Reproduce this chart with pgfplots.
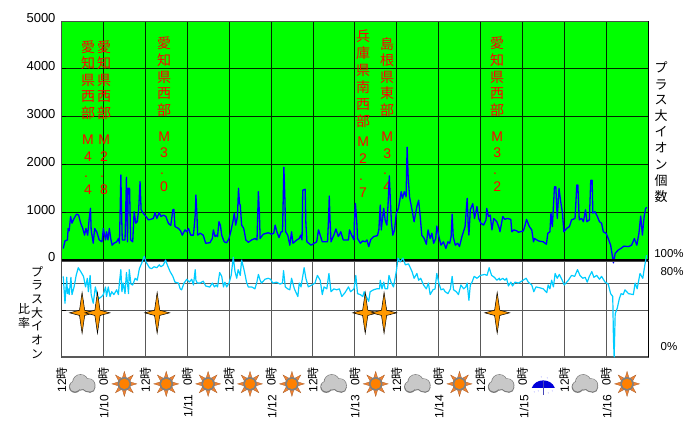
\documentclass[border=0pt]{standalone}
\usepackage{fontspec}
\usepackage{pgfplots}
\pgfplotsset{compat=1.18}
\setmainfont{Liberation Sans}
\newfontfamily\jp{Noto Sans CJK JP}
\definecolor{plusgreen}{RGB}{0,255,0}
\definecolor{starorange}{RGB}{255,153,0}
\definecolor{sunorange}{RGB}{255,128,0}
\definecolor{raycol}{RGB}{240,130,50}
\definecolor{cloudfill}{RGB}{200,200,200}
\definecolor{cloudedge}{RGB}{120,120,120}
\definecolor{linecyan}{RGB}{0,204,255}
\newcommand{\lat}[1]{{\rmfamily\fontsize{14}{16.6}\selectfont #1}}
\newcommand{\latdot}{{\rmfamily\fontsize{14}{16.6}\selectfont\hbox to 8pt{.\hfil}}}
\pgfdeclareplotmark{quake}{%
  \pgfsetfillcolor{starorange}\pgfsetstrokecolor{black}\pgfsetlinewidth{0.5pt}%
  \pgfpathmoveto{\pgfpoint{0pt}{20.5pt}}%
  \pgfpathlineto{\pgfpoint{2.6pt}{2.6pt}}%
  \pgfpathlineto{\pgfpoint{12.5pt}{0pt}}%
  \pgfpathlineto{\pgfpoint{2.6pt}{-2.6pt}}%
  \pgfpathlineto{\pgfpoint{0pt}{-20.5pt}}%
  \pgfpathlineto{\pgfpoint{-2.6pt}{-2.6pt}}%
  \pgfpathlineto{\pgfpoint{-12.5pt}{0pt}}%
  \pgfpathlineto{\pgfpoint{-2.6pt}{2.6pt}}%
  \pgfpathclose\pgfusepathqfillstroke}
\pgfdeclareplotmark{sun}{%
  \pgfsetfillcolor{raycol}\pgfsetstrokecolor{raycol!70!black}\pgfsetlinewidth{0.3pt}%
  \foreach \a in {0,45,...,315}{%
    \pgfmathsetmacro\b{\a-20}\pgfmathsetmacro\c{\a+20}%
    \pgfpathmoveto{\pgfpointpolar{\a}{12.5pt}}%
    \pgfpathlineto{\pgfpointpolar{\b}{6pt}}%
    \pgfpathlineto{\pgfpointpolar{\c}{6pt}}%
    \pgfpathclose\pgfusepathqfillstroke}%
  \pgfsetfillcolor{gray}\pgfpathcircle{\pgfpointorigin}{6.8pt}\pgfusepathqfill
  \pgfsetfillcolor{sunorange}\pgfpathcircle{\pgfpointorigin}{5.2pt}\pgfusepathqfill}
\pgfdeclareplotmark{cloud}{%
  \pgfsetfillcolor{cloudedge}%
  \pgfpathcircle{\pgfpoint{-7.5pt}{-3pt}}{6pt}%
  \pgfpathcircle{\pgfpoint{-2pt}{1.5pt}}{8.2pt}%
  \pgfpathcircle{\pgfpoint{6pt}{-1.5pt}}{7pt}%
  \pgfpathcircle{\pgfpoint{7.5pt}{-3.5pt}}{5.5pt}\pgfusepathqfill
  \pgfsetfillcolor{cloudfill}%
  \pgfpathcircle{\pgfpoint{-7.5pt}{-2.6pt}}{5.2pt}%
  \pgfpathcircle{\pgfpoint{-2pt}{1.7pt}}{7.4pt}%
  \pgfpathcircle{\pgfpoint{6pt}{-1.2pt}}{6.2pt}%
  \pgfpathcircle{\pgfpoint{7.5pt}{-3.1pt}}{4.7pt}\pgfusepathqfill}
\pgfdeclareplotmark{umbrella}{%
  \pgfsetfillcolor{blue!85!black}\pgfsetlinewidth{0.8pt}%
  \pgfpathmoveto{\pgfpoint{-11.5pt}{-4pt}}%
  \pgfpathcurveto{\pgfpoint{-8pt}{6pt}}{\pgfpoint{8pt}{6pt}}{\pgfpoint{11.5pt}{-4pt}}%
  \pgfpathclose\pgfusepathqfill
  \pgfsetstrokecolor{blue!45!gray}%
  \pgfpathmoveto{\pgfpoint{0pt}{3pt}}\pgfpathlineto{\pgfpoint{0pt}{-11pt}}\pgfusepathqstroke
  \pgfsetfillcolor{blue!35}%
  \pgfpathcircle{\pgfpoint{-9pt}{-8pt}}{0.6pt}%
  \pgfpathcircle{\pgfpoint{-5pt}{-7pt}}{0.6pt}%
  \pgfpathcircle{\pgfpoint{5pt}{-9pt}}{0.6pt}%
  \pgfpathcircle{\pgfpoint{9pt}{-7pt}}{0.6pt}%
  \pgfpathcircle{\pgfpoint{-2pt}{7pt}}{0.6pt}%
  \pgfpathcircle{\pgfpoint{4pt}{6pt}}{0.6pt}\pgfusepathqfill}
\begin{document}
\begin{tikzpicture}[x=1pt,y=1pt]
\path[use as bounding box] (0,0) rectangle (700pt,436pt);
% ---------------- upper panel
\begin{axis}[
  at={(61.5pt,176pt)},anchor=south west,scale only axis,
  width=586.5pt,height=239pt,
  xmin=0,xmax=168,ymin=0,ymax=5000,clip=false,
  axis background/.style={fill=plusgreen},
  axis line style={gray!60!black,line width=0.6pt},
  xtick={0,12,...,168},xticklabels={},
  ytick={0,1000,2000,3000,4000,5000},
  scaled y ticks=false,
  ytick pos=left,xtick pos=bottom,
  y tick label style={/pgf/number format/assume math mode=true,
    /pgf/number format/1000 sep={},font=\fontsize{13}{13}\selectfont,yshift=2.5pt,xshift=-2.5pt},
  major tick length=4pt,tick style={black,line width=0.7pt},
  x tick style={draw=none},
  grid=major,grid style={black!85!green,line width=0.7pt},
]
\node[anchor=north,inner sep=0pt,align=center,text=red,font=\jp\fontsize{14}{16.6}\selectfont] at (axis cs:7.6,4600) {愛\\知\\県\\西\\部\\[9.4pt]\lat{M}\\\lat{4}\\\latdot\\\lat{4}};
\node[anchor=north,inner sep=0pt,align=center,text=red,font=\jp\fontsize{14}{16.6}\selectfont] at (axis cs:12.2,4600) {愛\\知\\県\\西\\部\\[9.4pt]\lat{M}\\\lat{2}\\\latdot\\\lat{8}};
\node[anchor=north,inner sep=0pt,align=center,text=red,font=\jp\fontsize{14}{16.6}\selectfont] at (axis cs:29.4,4665) {愛\\知\\県\\西\\部\\[9.4pt]\lat{M}\\\lat{3}\\\latdot\\\lat{0}};
\node[anchor=north,inner sep=0pt,align=center,text=red,font=\jp\fontsize{14}{17}\selectfont] at (axis cs:86.4,4810) {兵\\庫\\県\\南\\西\\部\\[3pt]\lat{M}\\\lat{2}\\\latdot\\\lat{7}};
\node[anchor=north,inner sep=0pt,align=center,text=red,font=\jp\fontsize{14}{16.6}\selectfont] at (axis cs:93.3,4665) {島\\根\\県\\東\\部\\[9.4pt]\lat{M}\\\lat{3}\\\latdot\\\lat{4}};
\node[anchor=north,inner sep=0pt,align=center,text=red,font=\jp\fontsize{14}{16.6}\selectfont] at (axis cs:124.8,4665) {愛\\知\\県\\西\\部\\[9.4pt]\lat{M}\\\lat{3}\\\latdot\\\lat{2}};
\addplot[blue,line width=1.3pt,line join=round] coordinates {
(0.5,240)(1.0,400)(1.7,420)(1.9,660)(2.2,610)(2.6,910)(3.0,770)(3.6,870)(4.3,960)(4.9,940)(5.5,770)(6.1,660)(6.6,520)(7.0,660)(7.5,520)(7.9,840)(8.3,1080)(8.5,630)(9.1,350)(9.5,660)(10.1,590)(10.8,420)(11.6,380)(12.0,660)(12.6,420)(12.9,590)(13.3,420)(13.7,660)(14.1,450)(14.5,310)(15.0,350)(15.8,380)(16.3,450)(16.6,350)(16.8,1050)(17.0,1780)(17.2,1050)(17.4,420)(18.2,420)(18.6,1730)(18.9,380)(19.1,1500)(19.5,1500)(19.8,420)(20.4,380)(20.8,1010)(21.3,770)(21.7,800)(22.1,1050)(22.5,1640)(22.8,1050)(23.4,980)(24.2,910)(24.9,840)(25.5,850)(26.3,870)(26.8,990)(27.3,870)(28.0,990)(28.5,910)(29.2,940)(29.9,910)(30.6,770)(31.3,720)(31.9,1050)(32.2,1060)(32.5,700)(33.5,660)(34.1,610)(34.6,520)(35.4,630)(35.9,590)(36.4,660)(37.0,520)(37.8,520)(38.3,940)(38.5,1360)(38.8,940)(39.0,520)(39.7,560)(40.6,520)(41.3,350)(42.3,360)
(42.5,360)(43.2,450)(43.5,630)(44.0,490)(44.4,520)(44.7,490)(45.1,800)(45.5,730)(45.9,520)(46.6,380)(47.3,360)(48.0,450)(48.6,630)(49.2,840)(49.5,980)(49.9,730)(50.4,910)(50.7,1500)(51.0,1180)(51.2,1150)(51.6,730)(52.2,660)(52.8,420)(53.5,370)(54.5,420)(55.4,450)(56.0,420)(56.2,940)(56.4,1430)(56.7,940)(56.9,450)(57.8,540)(59.2,570)(60.2,540)(60.8,560)(61.2,730)(61.7,590)(62.3,470)(62.9,590)(63.3,590)(63.5,1250)(63.7,1940)(64.0,1250)(64.2,590)(64.8,520)(65.4,310)(65.9,590)(66.3,350)(67.4,420)(68.1,450)(68.5,520)(68.9,420)(69.1,1460)(69.8,1480)(70.0,770)(70.3,380)(71.5,310)(72.4,350)(73.1,380)(73.6,630)(74.1,520)(74.7,380)(76.2,380)(76.5,870)(76.7,1340)(76.9,870)(77.2,380)(78.0,520)(78.6,650)(79.3,490)(80.0,590)(80.7,420)(82.2,420)(82.5,630)(83.1,520)(83.8,420)
(83.9,800)(84.2,1180)(84.6,770)(84.8,450)(85.6,350)(86.3,400)(87.0,380)(87.5,420)(88.0,280)(88.6,430)(89.4,490)(90.5,510)(90.9,630)(91.3,1150)(91.6,630)(91.9,840)(92.3,1080)(92.7,840)(93.2,730)(93.6,1250)(93.9,1760)(94.2,1250)(94.5,800)(94.9,520)(95.4,630)(95.9,980)(96.5,1080)(97.0,1290)(97.3,1430)(97.7,1290)(98.2,1430)(98.7,1320)(99.0,2360)(99.3,1740)(99.7,1320)(100.4,1050)(101.0,800)(101.8,1120)(102.3,1250)(102.8,870)(103.2,520)(103.9,450)(104.5,330)(105.0,630)(105.6,450)(106.1,560)(106.6,350)(107.2,450)(107.5,710)(108.1,490)(108.7,310)(109.4,380)(110.1,240)(110.7,380)(111.2,350)(111.6,490)(111.9,960)(112.2,490)(112.8,310)(113.5,350)(114.0,280)(114.7,490)(115.6,700)(116.2,1290)(116.5,730)(116.7,520)(117.1,1050)(117.8,1180)(118.3,870)(119.0,1120)(119.5,870)(120.1,770)(120.9,730)(121.6,840)(121.8,1080)(122.3,910)(122.8,940)(123.3,630)(123.8,870)(124.7,800)(125.4,660)
(125.6,590)(126.4,910)(127.0,850)(127.7,870)(128.7,850)(129.0,590)(129.6,630)(130.4,610)(130.9,580)(132.3,610)(132.8,730)(133.2,850)(134.0,700)(134.7,630)(135.2,380)(135.5,450)(136.6,400)(138.0,380)(138.9,330)(139.3,560)(139.9,590)(140.2,980)(140.6,700)(141.2,1530)(141.6,1530)(142.0,870)(142.5,1500)(143.0,1220)(143.5,980)(143.9,590)(144.7,660)(145.5,700)(146.1,840)(147.1,870)(147.6,1570)(147.9,1570)(148.3,840)(149.0,870)(149.5,800)(150.1,1050)(150.5,800)(151.2,840)(151.6,1670)(152.0,1670)(152.2,980)(152.8,1010)(153.5,910)(154.1,800)(154.7,770)(155.2,590)(156.0,560)(156.6,450)(157.3,310)(158.1,-60)(158.6,140)(159.5,210)(160.2,240)(161.1,290)(162.4,280)(163.3,310)(164.1,450)(164.8,310)(165.4,560)(165.9,920)(166.4,520)(166.9,910)(167.3,1080)(167.7,1100)
};
\draw[black,line width=1.5pt] (axis cs:0,0)--(axis cs:168,0);
\draw[black,line width=0.8pt] (axis cs:168,0)--(axis cs:168,5000);
\end{axis}
% ---------------- lower panel
\begin{axis}[
  at={(61.5pt,79pt)},anchor=south west,scale only axis,
  width=586.5pt,height=96pt,
  xmin=0,xmax=168,ymin=0,ymax=100,clip=false,
  axis line style={gray!60!black,line width=0.6pt},
  xtick={0,12,...,168},
  xticklabels={{12{\jp 時}},{0{\jp 時}},{12{\jp 時}},{0{\jp 時}},{12{\jp 時}},{0{\jp 時}},{12{\jp 時}},{0{\jp 時}},{12{\jp 時}},{0{\jp 時}},{12{\jp 時}},{0{\jp 時}},{12{\jp 時}},{0{\jp 時}},{}},
  x tick label style={rotate=90,anchor=east,font=\fontsize{12}{12}\selectfont,xshift=-6.5pt,yshift=0pt},
  ytick={0,49,77,100},yticklabels={},
  ytick pos=left,
  major tick length=4pt,tick style={black,line width=0.7pt},
  x tick style={draw=none},
  grid=major,grid style={gray!70!black,line width=0.8pt},
]
\draw[gray!70!black,line width=1.2pt] (axis cs:0,0)--(axis cs:168,0);
\draw[black,line width=0.8pt] (axis cs:168,0)--(axis cs:168,100);
\addplot[linecyan,line width=1.2pt,line join=round] coordinates {
(0.5,84)(1.0,56)(1.5,83)(1.7,66)(2.1,71)(2.2,65)(2.7,83)(3.0,65)(3.6,73)(4.2,85)(4.8,93)(5.5,89)(6.3,84)(6.9,73)(7.4,82)(7.7,68)(8.2,85)(8.5,65)(9.1,56)(9.7,73)(10.3,63)(10.8,61)(11.5,63)(12.0,65)(12.6,73)(12.9,63)(13.4,73)(13.9,63)(14.4,68)(15.0,65)(15.8,70)(16.3,65)(16.6,78)(17.0,91)(17.3,68)(17.7,77)(18.2,66)(18.6,88)(19.2,66)(19.4,91)(19.9,76)(20.4,75)(21.1,82)(21.7,80)(22.3,92)(23.0,98)(23.7,105)(24.2,99)(25.2,93)(25.8,92)(26.5,94)(27.3,93)(28.0,96)(28.5,94)(29.2,96)(29.8,101)(30.3,96)(31.1,89)(31.9,84)(32.5,78)(33.5,77)(34.0,71)(34.4,70)(35.1,77)(35.9,81)(36.6,78)(37.3,81)(37.8,75)(38.3,91)(38.5,80)(38.9,77)(39.7,77)(40.6,79)(41.3,74)(42.3,73)
(42.5,73)(43.2,77)(43.8,73)(44.3,75)(44.7,73)(45.3,88)(45.9,84)(46.4,73)(46.8,78)(47.3,73)(48.0,77)(48.6,85)(49.2,104)(49.7,89)(50.2,82)(50.6,91)(51.2,85)(51.6,101)(52.4,89)(53.0,78)(53.5,73)(54.5,73)(55.4,71)(55.9,77)(56.4,86)(56.9,80)(57.3,77)(58.3,81)(59.2,82)(59.9,81)(60.5,77)(61.6,78)(62.6,76)(63.3,77)(63.6,90)(64.1,73)(64.8,71)(65.4,70)(65.9,82)(66.7,71)(67.7,63)(68.1,77)(68.6,73)(69.1,84)(69.5,93)(70.0,82)(70.7,73)(71.7,75)(72.6,77)(73.3,85)(74.1,80)(74.7,65)(75.2,73)(76.0,71)(76.6,87)(77.2,68)(78.0,71)(78.8,70)(79.6,71)(80.3,63)(81.2,67)(82.2,73)(82.8,68)(83.8,71)
(84.3,85)(84.8,66)(85.6,65)(86.3,63)(86.7,68)(87.3,63)(88.0,58)(88.4,68)(89.4,70)(90.3,71)(91.1,71)(91.3,80)(91.8,71)(92.3,78)(92.7,71)(93.4,71)(93.8,85)(94.4,78)(95.1,73)(95.9,89)(96.4,103)(97.0,99)(97.8,103)(98.5,96)(99.4,97)(100.4,89)(101.0,82)(101.8,87)(102.3,80)(102.9,82)(103.7,75)(104.5,71)(105.1,77)(105.6,65)(106.4,70)(107.0,71)(107.5,87)(108.1,77)(108.7,70)(109.4,71)(109.9,68)(110.7,66)(111.4,71)(111.9,84)(112.3,70)(113.1,68)(113.7,65)(114.4,75)(115.2,71)(115.8,73)(116.2,77)(116.7,59)(117.1,75)(117.6,78)(118.2,84)(119.0,82)(120.0,85)(121.2,86)(121.9,85)(122.5,93)(123.2,85)(124.0,83)(124.7,80)(125.4,82)
(125.6,80)(126.4,82)(127.0,80)(127.5,82)(128.0,74)(128.7,78)(129.2,74)(129.9,78)(130.9,77)(131.8,79)(133.1,82)(133.7,78)(134.7,75)(135.3,68)(135.9,73)(137.1,72)(138.0,71)(139.0,67)(139.4,75)(139.9,71)(140.4,80)(140.9,73)(141.4,87)(142.0,82)(142.6,86)(143.3,81)(144.0,75)(145.2,80)(146.1,85)(147.0,84)(147.8,91)(148.5,85)(149.3,82)(150.0,83)(150.6,78)(151.2,84)(151.9,89)(152.5,83)(153.3,85)(154.1,81)(154.7,84)(155.7,78)(156.6,76)(157.3,66)(157.9,63)(158.1,19)(158.3,0)(158.6,45)(159.2,51)(159.8,61)(160.3,66)(160.9,65)(161.4,70)(162.4,66)(163.8,65)(164.3,77)(164.9,71)(165.7,87)(166.5,82)(167.1,96)(167.6,106)
};
% earthquakes
\addplot[only marks,mark=quake] coordinates {(5.9,46)(10.3,46)(27.4,46)(87.0,46)(92.4,46)(124.8,46)};
% weather
\addplot[only marks,mark=cloud] coordinates {(6,-28)(78,-28)(102,-28)(126,-28)(150,-28)};
\addplot[only marks,mark=sun] coordinates {(18,-28)(30,-28)(42,-28)(54,-28)(66,-28)(90,-28)(114,-28)(162,-28)};
\addplot[only marks,mark=umbrella] coordinates {(138,-28)};
\end{axis}
% ---------------- free text
\foreach \xx/\tt in {104/1\slash 10,188/1\slash 11,272/1\slash 12,355/1\slash 13,439/1\slash 14,524/1\slash 15,607/1\slash 16}{%
  \node[rotate=90,anchor=east,inner sep=0pt,font=\fontsize{12}{12}\selectfont] at ({\xx pt},{436pt-395pt}) {\tt};}
\node[anchor=north,inner sep=0pt,align=center,font=\jp\fontsize{13}{16}\selectfont] at (661pt,{436pt-62pt}) {プ\\ラ\\ス\\大\\イ\\オ\\ン\\個\\数};
\node[anchor=north,inner sep=0pt,align=center,font=\jp\fontsize{12}{13.7}\selectfont] at (37pt,{436pt-266pt}) {プ\\ラ\\ス\\大\\イ\\オ\\ン};
\node[anchor=north,inner sep=0pt,align=center,font=\jp\fontsize{12}{14}\selectfont] at (24pt,{436pt-303pt}) {比\\率};
\node[anchor=center,inner sep=0pt,font=\fontsize{11.5}{12}\selectfont] at (669pt,{436pt-254pt}) {100\%};
\node[anchor=center,inner sep=0pt,font=\fontsize{11.5}{12}\selectfont] at (672pt,{436pt-272pt}) {80\%};
\node[anchor=center,inner sep=0pt,font=\fontsize{11.5}{12}\selectfont] at (669pt,{436pt-347pt}) {0\%};
\end{tikzpicture}
\end{document}
